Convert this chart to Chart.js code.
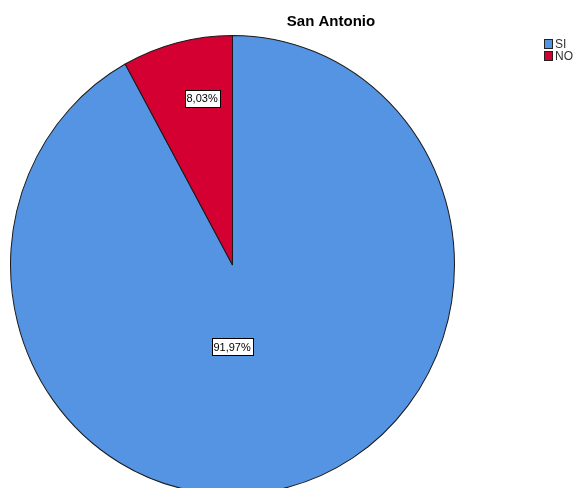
<!DOCTYPE html>
<html>
<head>
<meta charset="utf-8">
<script src="https://cdn.jsdelivr.net/npm/chart.js@4"></script>
<style>
  html, body { margin: 0; padding: 0; background: #fff; overflow: hidden; }
  #wrap { width: 574px; height: 488px; position: relative; }
</style>
</head>
<body>
<div id="wrap"><canvas id="pie"></canvas></div>
<script>
const chartTitle = 'San Antonio';
const categories = ['SI', 'NO'];
const percents = [91.97, 8.03];
const sliceColors = ['#5594e3', '#d50032'];

// where SPSS drops the value boxes: fraction of radius and angle (deg, screen coords)
const labelPlacement = [
    { r: 0.369, angle: 90.3 },
    { r: 0.763, angle: -100.35 }
];
// SPSS draws the pie a little taller than wide
const stretchY = 1.034;

const fmt = v => v.toFixed(2).replace('.', ',') + '%';

const spssDecor = {
    id: 'spssDecor',
    beforeDatasetsDraw(chart) {
        const ctx = chart.ctx;
        const cy = chart.getDatasetMeta(0).data[0].y;
        ctx.save();
        ctx.translate(0, cy);
        ctx.scale(1, stretchY);
        ctx.translate(0, -cy);
    },
    afterDatasetsDraw(chart) {
        chart.ctx.restore();
    },
    afterDraw(chart) {
        const ctx = chart.ctx;
        const meta = chart.getDatasetMeta(0);

        // title
        ctx.save();
        ctx.font = 'bold 15px "Liberation Sans", Arial, sans-serif';
        ctx.fillStyle = '#000';
        ctx.textAlign = 'center';
        ctx.textBaseline = 'middle';
        ctx.fillText(chartTitle, 331, 22);

        // value boxes
        ctx.font = '11px "Liberation Sans", Arial, sans-serif';
        meta.data.forEach((arc, i) => {
            const p = labelPlacement[i];
            const a = p.angle * Math.PI / 180;
            const x = arc.x + Math.cos(a) * arc.outerRadius * p.r;
            const y = arc.y + Math.sin(a) * arc.outerRadius * p.r;
            const txt = fmt(percents[i]);
            const w = Math.round(ctx.measureText(txt).width + 4);
            const h = 17;
            const bx = Math.round(x - w / 2) + 0.5;
            const by = Math.round(y - h / 2) + 0.5;
            ctx.fillStyle = '#fff';
            ctx.fillRect(bx, by, w, h);
            ctx.strokeStyle = '#000';
            ctx.lineWidth = 1;
            ctx.strokeRect(bx, by, w, h);
            ctx.fillStyle = '#000';
            ctx.fillText(txt, x, y + 1);
        });

        // legend
        ctx.textAlign = 'left';
        ctx.font = '12px "Liberation Sans", Arial, sans-serif';
        categories.forEach((c, i) => {
            const y = 39 + i * 12;
            ctx.fillStyle = sliceColors[i];
            ctx.fillRect(544.5, y + 0.5, 8, 9);
            ctx.strokeStyle = '#222';
            ctx.strokeRect(544.5, y + 0.5, 8, 9);
            ctx.fillStyle = '#333';
            ctx.fillText(c, 555, y + 6);
        });
        ctx.restore();
    }
};

new Chart(document.getElementById('pie'), {
    type: 'pie',
    data: {
        labels: categories,
        datasets: [{
            data: percents,
            backgroundColor: sliceColors,
            borderColor: '#1a1a1a',
            borderWidth: 1
        }]
    },
    options: {
        responsive: true,
        maintainAspectRatio: false,
        animation: false,
        layout: { padding: { left: 10, right: 119, top: 42.5, bottom: 0.5 } },
        plugins: {
            legend: { display: false },
            tooltip: { enabled: false },
            title: { display: false }
        }
    },
    plugins: [spssDecor]
});
</script>
</body>
</html>
